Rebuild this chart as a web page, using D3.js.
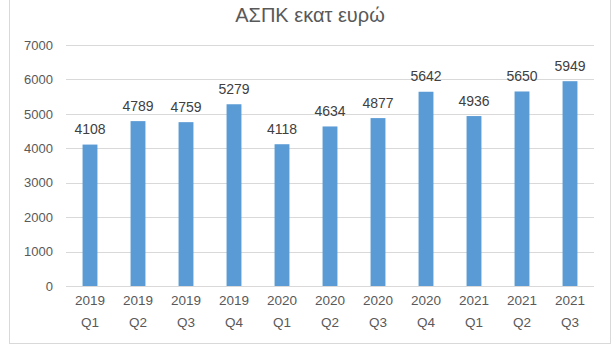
<!DOCTYPE html>
<html>
<head>
<meta charset="utf-8">
<script src="https://cdn.jsdelivr.net/npm/d3@7"></script>
<style>
html,body{margin:0;padding:0;background:#fff;}
svg{display:block;}
</style>
</head>
<body>
<svg id="chart" width="615" height="357"></svg>
<script>
const years = ["2019","2019","2019","2019","2020","2020","2020","2020","2021","2021","2021"];
const quarters = ["Q1","Q2","Q3","Q4","Q1","Q2","Q3","Q4","Q1","Q2","Q3"];
const values = [4108,4789,4759,5279,4118,4634,4877,5642,4936,5650,5949];
const yTicks = [0,1000,2000,3000,4000,5000,6000,7000];
const title = "ΑΣΠΚ εκατ ευρώ";

(function(){
const svg = d3.select("#chart");
const font = "'Liberation Sans', Arial, sans-serif";

// outer border
svg.append("rect").attr("x",9.5).attr("y",-2).attr("width",601).attr("height",345.5)
  .attr("fill","#fff").attr("stroke","#d9d9d9").attr("stroke-width",1);

const pLeft = 66, pRight = 594, pTop = 45, pBottom = 286;
const idx = values.map((d,i)=>i);
const x = d3.scaleBand().domain(idx).range([pLeft,pRight]).paddingInner(0.69).paddingOuter(0.345);
const y = d3.scaleLinear().domain([0,7000]).range([pBottom,pTop]);

// gridlines
svg.append("g").selectAll("line").data(yTicks).join("line")
  .attr("x1",pLeft).attr("x2",pRight)
  .attr("y1",d=>Math.round(y(d))+0.5).attr("y2",d=>Math.round(y(d))+0.5)
  .attr("stroke","#d9d9d9").attr("stroke-width",1);

// y axis labels
const yAxis = d3.axisLeft(y).tickValues(yTicks).tickSize(0).tickPadding(0).tickFormat(d3.format("d"));
const gy = svg.append("g").attr("transform",`translate(53,0)`).call(yAxis);
gy.select(".domain").remove();
gy.selectAll("text").attr("fill","#595959").style("font-family",font).style("font-size","13px");

// bars
svg.append("g").selectAll("rect").data(values).join("rect")
  .attr("x",(d,i)=>x(i)).attr("width",x.bandwidth())
  .attr("y",d=>y(d)).attr("height",d=>y(0)-y(d))
  .attr("fill","#5b9bd5");

// zero line on top
svg.append("line").attr("x1",pLeft).attr("x2",pRight)
  .attr("y1",Math.round(y(0))+0.5).attr("y2",Math.round(y(0))+0.5)
  .attr("stroke","#d9d9d9");

// value labels
svg.append("g").selectAll("text").data(values).join("text")
  .attr("x",(d,i)=>x(i)+x.bandwidth()/2).attr("y",d=>y(d)-10.5)
  .attr("text-anchor","middle").attr("fill","#404040")
  .style("font-family",font).style("font-size","14px")
  .text(d=>d);

// x labels
const xAxis = d3.axisBottom(x).tickSize(0).tickFormat(()=>"");
const gx = svg.append("g").attr("transform",`translate(0,${pBottom})`).call(xAxis);
gx.select(".domain").remove();
gx.selectAll(".tick").each(function(d){
  const t = d3.select(this).append("text").attr("text-anchor","middle").attr("fill","#595959")
    .style("font-family",font).style("font-size","13.5px");
  t.append("tspan").attr("x",0).attr("y",19).text(years[d]);
  t.append("tspan").attr("x",0).attr("y",40.5).text(quarters[d]);
});

// title
svg.append("text").attr("x",310).attr("y",22).attr("text-anchor","middle")
  .attr("fill","#595959").style("font-family",font).style("font-size","20px").text(title);
})();
</script>
</body>
</html>
